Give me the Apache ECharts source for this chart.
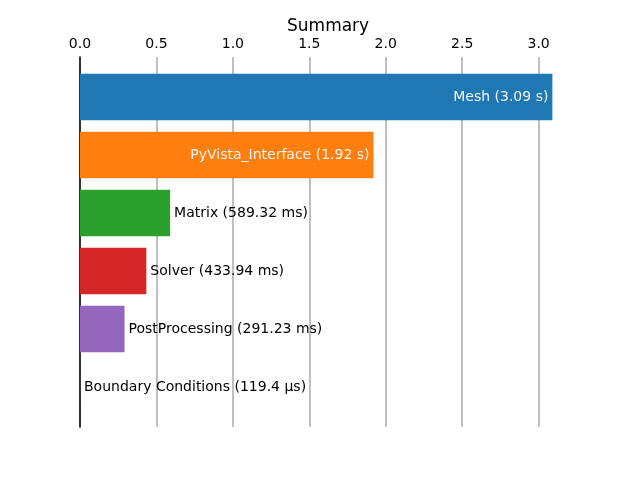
<!DOCTYPE html>
<html lang="en">
    <head>
        <meta charset="UTF-8">
        <title>Summary</title>
        <script src="https://cdn.jsdelivr.net/npm/echarts@6/dist/echarts.min.js"></script>
        <style>
            html, body { margin: 0; padding: 0; background: #fff; }
        </style>
    </head>
    <body>
        <div id="chart_1" style="width:640px; height:480px;"></div>
        <script>
            // timings, seconds
            var names = ['Mesh', 'PyVista_Interface', 'Matrix', 'Solver', 'PostProcessing', 'Boundary Conditions'];
            var seconds = [3.09, 1.92, 0.58932, 0.43394, 0.29123, 0.0001194];
            var durationText = ['3.09 s', '1.92 s', '589.32 ms', '433.94 ms', '291.23 ms', '119.4 µs'];
            var xTicks = [0, 0.5, 1.0, 1.5, 2.0, 2.5, 3.0];

            var colors = ['#1f77b4', '#ff7f0e', '#2ca02c', '#d62728', '#9467bd', '#8c564b'];
            var font = 'DejaVu Sans';
            var xMax = Math.max.apply(null, seconds) * 1.05;

            let myChart = echarts.init(document.getElementById('chart_1'));

            var barData = seconds.map(function (v, i) {
                var inside = v > 0.5 * Math.max.apply(null, seconds);
                return {
                    value: v,
                    itemStyle: { color: colors[i] },
                    label: {
                        show: true,
                        position: inside ? 'insideRight' : 'right',
                        distance: 4,
                        color: inside ? '#f4f4f4' : '#000',
                        formatter: names[i] + ' (' + durationText[i] + ')'
                    }
                };
            });

            var option = {
                animation: false,
                textStyle: { fontFamily: font },
                title: {
                    text: 'Summary',
                    left: 282,
                    top: 13,
                    textStyle: { fontFamily: font, fontSize: 17, fontWeight: 'normal', color: '#000' }
                },
                grid: [
                    { left: 80, right: 64, top: 57, bottom: 53 },
                    { left: 80, right: 64, top: 68, bottom: 64 }
                ],
                xAxis: [{
                    gridIndex: 0,
                    type: 'value',
                    position: 'top',
                    min: 0,
                    max: xMax,
                    interval: xTicks[1] - xTicks[0],
                    axisLine: { show: false },
                    axisTick: { show: false },
                    axisLabel: {
                        margin: 6,
                        fontSize: 14,
                        color: '#000',
                        fontFamily: font,
                        showMaxLabel: false,
                        formatter: function (v) {
                            return xTicks.indexOf(+v.toFixed(1)) >= 0 ? v.toFixed(1) : '';
                        }
                    },
                    splitLine: {
                        show: true,
                        showMinLine: false,
                        showMaxLine: false,
                        lineStyle: { color: '#b0b0b0', width: 1.6 }
                    }
                }, {
                    gridIndex: 1,
                    type: 'value',
                    min: 0,
                    max: xMax,
                    show: false
                }],
                yAxis: [{
                    gridIndex: 0,
                    type: 'value',
                    min: 0,
                    max: 1,
                    axisLine: { show: true, onZero: false, lineStyle: { color: '#000', width: 1.6 } },
                    axisTick: { show: false },
                    axisLabel: { show: false },
                    splitLine: { show: false }
                }, {
                    gridIndex: 1,
                    type: 'category',
                    data: names,
                    inverse: true,
                    show: false
                }],
                series: [{
                    type: 'bar',
                    xAxisIndex: 1,
                    yAxisIndex: 1,
                    barWidth: '80%',
                    label: { fontSize: 14, fontFamily: font },
                    data: barData
                }]
            };

            myChart.setOption(option);
        </script>
    </body>
</html>
